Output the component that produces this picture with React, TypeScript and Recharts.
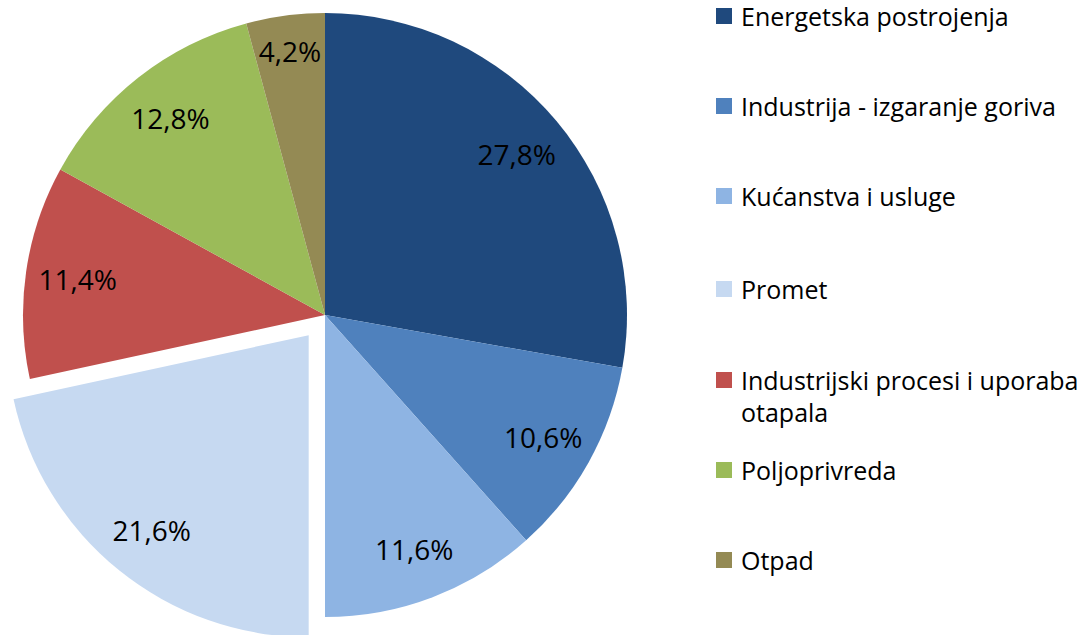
import { PieChart, Pie, Cell, Sector, Legend } from 'recharts';

const categories = [
  'Energetska postrojenja',
  'Industrija - izgaranje goriva',
  'Kućanstva i usluge',
  'Promet',
  'Industrijski procesi i uporaba otapala',
  'Poljoprivreda',
  'Otpad',
];
const shares = [27.8, 10.6, 11.6, 21.6, 11.4, 12.8, 4.2];
const colors = ['#1F497D', '#4F81BD', '#8EB4E3', '#C6D9F1', '#C0504D', '#9BBB59', '#948A54'];
const exploded = 'Promet';

const data = categories.map((name, i) => ({ name, value: shares[i] }));

const FONT = '"Open Sans", "Noto Sans", sans-serif';
const RAD = Math.PI / 180;
const EXPLODE = 26;

function offsetFor(name: string, midAngle: number) {
  if (name !== exploded) return { dx: 0, dy: 0 };
  return { dx: EXPLODE * Math.cos(-midAngle * RAD), dy: EXPLODE * Math.sin(-midAngle * RAD) };
}

const renderShape = (props: any) => {
  const name = props.payload?.name ?? props.name;
  const mid = (props.startAngle + props.endAngle) / 2;
  const { dx, dy } = offsetFor(name, mid);
  return (
    <Sector
      cx={props.cx + dx}
      cy={props.cy + dy}
      innerRadius={0}
      outerRadius={props.outerRadius}
      startAngle={props.startAngle}
      endAngle={props.endAngle}
      fill={props.fill}
      stroke="none"
    />
  );
};

const renderLabel = (props: any) => {
  const { cx, cy, midAngle, value } = props;
  const name = props.payload?.name ?? props.name;
  const { dx, dy } = offsetFor(name, midAngle);
  const r = value < 5 ? 266 : 250;
  const x = cx + dx + r * Math.cos(-midAngle * RAD);
  const y = cy + dy + r * Math.sin(-midAngle * RAD);
  return (
    <text x={x} y={y} textAnchor="middle" dominantBaseline="central" fill="#000" fontSize={28} fontFamily={FONT}>
      {value.toFixed(1).replace('.', ',') + '%'}
    </text>
  );
};

const rowY = [16, 106, 196, 289, 380, 470, 560];

const renderLegend = () => (
  <div style={{ position: 'relative', width: 370, height: 635 }}>
    {categories.map((c, i) => (
      <div
        key={c}
        style={{
          position: 'absolute',
          left: 0,
          top: rowY[i] - 16,
          display: 'flex',
          alignItems: 'flex-start',
          fontFamily: FONT,
          fontSize: 25,
          lineHeight: '32px',
          color: '#000',
          width: 370,
        }}
      >
        <span style={{ width: 16, height: 16, background: colors[i], marginTop: 8, marginRight: 9, flexShrink: 0 }} />
        <span style={{ width: 345, whiteSpace: 'normal' }}>{c}</span>
      </div>
    ))}
  </div>
);

export default function App() {
  return (
    <div style={{ width: 1086, height: 635, background: '#fff' }}>
      <style>{'body{margin:0}'}</style>
      <PieChart width={1086} height={635} margin={{ top: 0, right: 0, bottom: 0, left: 0 }}>
        <Pie
          data={data}
          dataKey="value"
          nameKey="name"
          cx={325}
          cy={315}
          outerRadius={302}
          startAngle={90}
          endAngle={-270}
          shape={renderShape}
          label={renderLabel}
          labelLine={false}
          isAnimationActive={false}
        >
          {data.map((d, i) => (
            <Cell key={d.name} fill={colors[i]} />
          ))}
        </Pie>
        <Legend
          layout="vertical"
          verticalAlign="top"
          align="right"
          content={renderLegend}
          wrapperStyle={{ left: 716, top: 0, width: 370 }}
        />
      </PieChart>
    </div>
  );
}
